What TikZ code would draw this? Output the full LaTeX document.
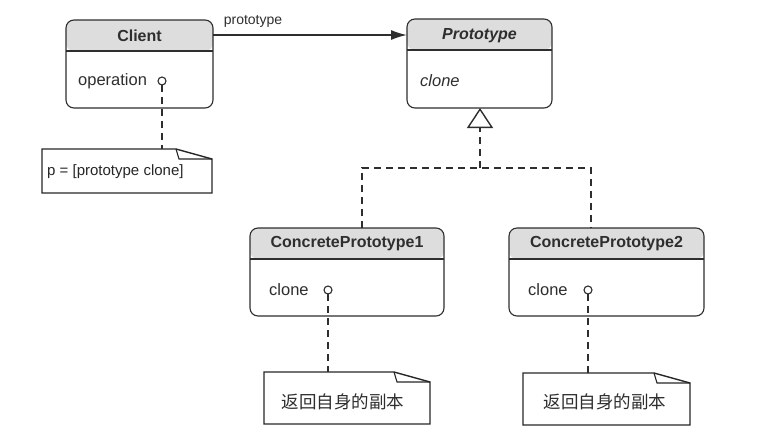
\documentclass[tikz,border=0pt]{standalone}
\usepackage{fontspec}
\setmainfont{Liberation Sans}
\newfontfamily\cjk{Noto Sans CJK SC}
\usetikzlibrary{arrows.meta}
\definecolor{ink}{HTML}{2E2E2E}
\definecolor{hdr}{HTML}{DDDDDD}
\tikzset{
  cls/.style={draw=ink, line width=1.1pt, rounded corners=8pt, fill=white, inner sep=0pt, outer sep=0pt},
  hdrtext/.style={font=\fontsize{16}{18}\selectfont\bfseries, text=ink, inner sep=0pt},
  bodytext/.style={font=\fontsize{16.5}{18}\selectfont, text=ink, inner sep=0pt, anchor=west},
  port/.style={circle, draw=ink, fill=white, line width=1.1pt, minimum size=8pt, inner sep=0pt, outer sep=0pt},
  dsh/.style={draw=ink, line width=1.5pt, dash pattern=on 7pt off 5pt},
  noteline/.style={draw=black!85, line width=1.4pt, line join=miter},
  notebox/.style={inner sep=0pt, outer sep=0pt},
}
\newcommand\umlnote[1]{%
  \draw[noteline] (#1.north west) -- ([xshift=-36pt]#1.north east) -- ([yshift=-10pt]#1.north east) -- (#1.south east) -- (#1.south west) -- cycle;
  \draw[noteline, line width=1.1pt] ([xshift=-36pt]#1.north east) -- ([xshift=-33pt, yshift=-10pt]#1.north east) -- ([yshift=-10pt]#1.north east);
}
\newcommand\hdrfill{\fill[hdr] (path picture bounding box.north west) rectangle ([yshift=-31pt]path picture bounding box.north east);}
\begin{document}
\begin{tikzpicture}[x=1pt,y=-1pt]
\useasboundingbox (0,0) rectangle (778,437);

% Client
\node[cls, minimum width=147pt, minimum height=88pt, path picture={\hdrfill}] (client) at (139.5,64) {};
\draw[ink, line width=1.1pt] ([yshift=-31pt]client.north west) -- ([yshift=-31pt]client.north east);
\node[hdrtext] (clientname) at (139.5,36) {Client};
\node[bodytext] (operation) at (78,81) {operation};
\node[port] (op0) at (162,81) {};

% Prototype
\node[cls, minimum width=145pt, minimum height=89pt, path picture={\hdrfill}] (proto) at (479.5,63.5) {};
\draw[ink, line width=1.1pt] ([yshift=-31pt]proto.north west) -- ([yshift=-31pt]proto.north east);
\node[hdrtext, font=\fontsize{16}{18}\selectfont\bfseries\itshape] (protoname) at (479.5,36) {Prototype};
\node[bodytext, font=\fontsize{16.5}{18}\selectfont\itshape] (protoclone) at (420,81) {clone};

% ConcretePrototype1
\node[cls, minimum width=194pt, minimum height=88pt, path picture={\hdrfill}] (cp1) at (347,272) {};
\draw[ink, line width=1.1pt] ([yshift=-31pt]cp1.north west) -- ([yshift=-31pt]cp1.north east);
\node[hdrtext] (cp1name) at (347,244) {ConcretePrototype1};
\node[bodytext] (cp1clone) at (269,290) {clone};
\node[port] (op1) at (328,290) {};

% ConcretePrototype2
\node[cls, minimum width=195pt, minimum height=88pt, path picture={\hdrfill}] (cp2) at (606.5,272) {};
\draw[ink, line width=1.1pt] ([yshift=-31pt]cp2.north west) -- ([yshift=-31pt]cp2.north east);
\node[hdrtext] (cp2name) at (606.5,244) {ConcretePrototype2};
\node[bodytext] (cp2clone) at (528,290) {clone};
\node[port] (op2) at (588,290) {};

% association
\draw[ink, line width=1.5pt, -{Latex[length=16pt, width=10pt]}] ([yshift=-15pt]client.north east) -- ([yshift=-15pt]client.north east -| proto.west);
\node[font=\fontsize{14}{16}\selectfont, text=ink, inner sep=0pt] (assoclabel) at (253,21) {prototype};

% inheritance
\coordinate (j) at (480,168);
\coordinate (c1) at (362,168);
\coordinate (c2) at (591,168);
\draw[dsh] (c1 |- cp1.north) -- (c1) -- (c2) -- (c2 |- cp2.north);
\draw[dsh, -{Triangle[open, length=20pt, width=26pt, fill=white, line width=1.4pt]}] (j) -- (proto.south -| j);

% notes
\node[notebox, minimum width=170pt, minimum height=44pt] (n0) at (127,171) {};
\umlnote{n0}
\node[font=\fontsize{15}{17}\selectfont, text=black!85, inner sep=0pt, anchor=west] (n0text) at (47,172) {p = [prototype clone]};
\node[notebox, minimum width=166pt, minimum height=52pt] (n1) at (347,398) {};
\umlnote{n1}
\node[font=\cjk\fontsize{17.5}{19}\selectfont, text=ink, inner sep=0pt] (n1text) at (343,402) {返回自身的副本};
\node[notebox, minimum width=167pt, minimum height=52pt] (n2) at (606.5,399) {};
\umlnote{n2}
\node[font=\cjk\fontsize{17.5}{19}\selectfont, text=ink, inner sep=0pt] (n2text) at (605,402) {返回自身的副本};

% note connectors
\draw[dsh] (op0.south) -- (op0.south |- n0.north);
\draw[dsh] (op1.south) -- (op1.south |- n1.north);
\draw[dsh] (op2.south) -- (op2.south |- n2.north);
\end{tikzpicture}
\end{document}
